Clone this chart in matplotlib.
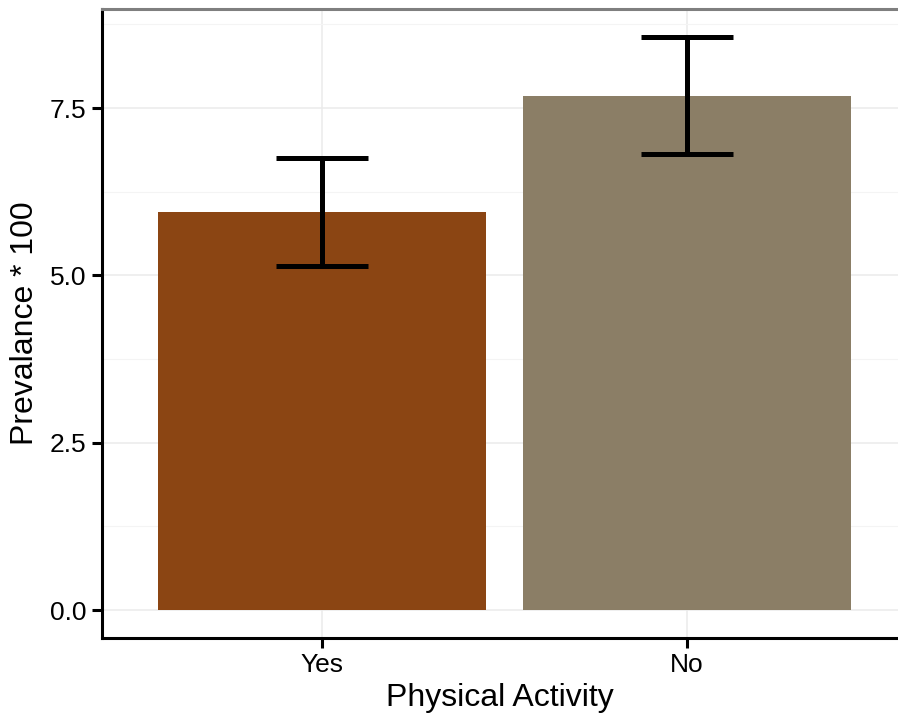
import matplotlib
matplotlib.use("Agg")
import matplotlib.pyplot as plt
from matplotlib.ticker import MultipleLocator

categories = ["Yes", "No"]
values = [5.95, 7.68]
err_low = [5.14, 6.82]
err_high = [6.75, 8.56]
colors = ["#8B4513", "#8B7E66"]
yticks = [0.0, 2.5, 5.0, 7.5]
ytick_labels = ["0.0", "2.5", "5.0", "7.5"]

plt.rcParams['font.family'] = ['Liberation Sans', 'DejaVu Sans']

W, H = 898, 719
fig = plt.figure(figsize=(W/100, H/100), dpi=100)
ax = fig.add_axes([102/W, 1-638/H, (W-102)/W, (638-9)/H])

x = list(range(len(categories)))
ax.bar(x, values, width=0.9, color=colors, zorder=2)
for xi, lo, hi in zip(x, err_low, err_high):
    ax.plot([xi, xi], [lo, hi], color="black", lw=3.6, zorder=3, solid_capstyle="butt")
    for yy in (lo, hi):
        ax.plot([xi-0.125, xi+0.125], [yy, yy], color="black", lw=3.6, zorder=3, solid_capstyle="butt")

ax.set_xlim(-0.603, 1.578)
ax.set_ylim(-0.418, 8.98)
ax.set_xticks(x)
ax.set_xticklabels(categories)
ax.set_yticks(yticks)
ax.set_yticklabels(ytick_labels)
ax.yaxis.set_minor_locator(MultipleLocator(1.25))

ax.grid(True, which="major", color="#EBEBEB", lw=1.1, zorder=0)
ax.grid(True, which="minor", axis="y", color="#F4F4F4", lw=0.8, zorder=0)
ax.set_axisbelow(True)

ax.spines["right"].set_visible(False)
ax.spines["top"].set_color("#7F7F7F")
ax.spines["top"].set_linewidth(2.2)
for s in ["left", "bottom"]:
    ax.spines[s].set_color("black")
    ax.spines[s].set_linewidth(2.2)

ax.tick_params(axis="both", which="major", length=7, width=2.2, color="black",
               labelsize=19, labelcolor="black")
ax.tick_params(axis="y", which="minor", length=0)
ax.tick_params(axis="x", pad=4)
ax.tick_params(axis="y", pad=4)

ax.set_xlabel("Physical Activity", fontsize=23, labelpad=4)
ax.set_ylabel("Prevalance * 100", fontsize=23, labelpad=7)

fig.savefig("out.png", dpi=100)
